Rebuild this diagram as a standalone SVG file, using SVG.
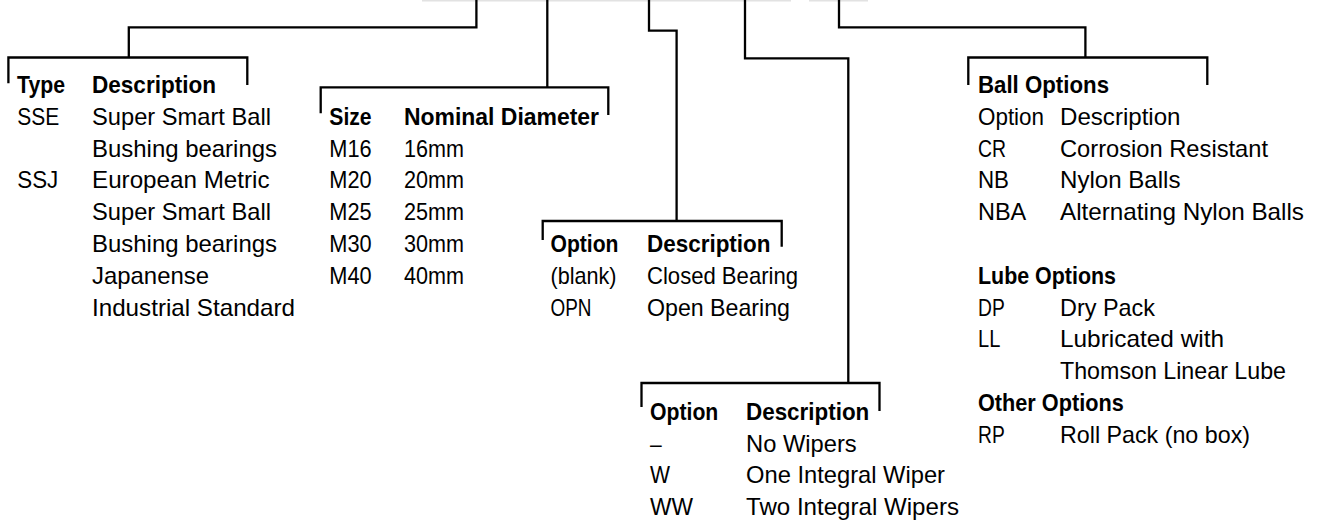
<svg xmlns="http://www.w3.org/2000/svg" width="1318" height="527" viewBox="0 0 1318 527">
<style>
.ln{fill:none;stroke:#000;stroke-width:2.3;stroke-linejoin:miter}
.gr{fill:none;stroke:#e2e2e2;stroke-width:1.5}
.t{font-family:"Liberation Sans",Arial,sans-serif;font-size:24px;fill:#000}
.b{font-weight:bold}
</style>
<rect width="1318" height="527" fill="#fff"/>
<g id="top-frame">
<line class="gr" x1="422" y1="0.75" x2="791" y2="0.75"/>
<line class="gr" x1="809" y1="0.75" x2="868" y2="0.75"/>
</g>
<g id="connectors">
<path class="ln" d="M476.4,0 V27.3 H128.8 V57.5"/>
<path class="ln" d="M547.3,0 V87.3"/>
<path class="ln" d="M649,0 V30.7 H676.6 V221"/>
<path class="ln" d="M745,0 V58.3 H848.3 V383"/>
<path class="ln" d="M839,0 V27.3 H1085.4 V57.5"/>
</g>
<g id="type-node">
<path class="ln" d="M8.4,83.3 V57.5 H247.3 V85"/>
<text class="t b" x="17" y="93" textLength="48" lengthAdjust="spacingAndGlyphs">Type</text>
<text class="t b" x="92" y="93" textLength="124" lengthAdjust="spacingAndGlyphs">Description</text>
<text class="t" x="17.3" y="124.8" textLength="42" lengthAdjust="spacingAndGlyphs">SSE</text>
<text class="t" x="92" y="124.8" textLength="179" lengthAdjust="spacingAndGlyphs">Super Smart Ball</text>
<text class="t" x="92" y="156.6" textLength="185" lengthAdjust="spacingAndGlyphs">Bushing bearings</text>
<text class="t" x="17.3" y="188.4" textLength="41" lengthAdjust="spacingAndGlyphs">SSJ</text>
<text class="t" x="92" y="188.4" textLength="177.5" lengthAdjust="spacingAndGlyphs">European Metric</text>
<text class="t" x="92" y="220.2" textLength="179" lengthAdjust="spacingAndGlyphs">Super Smart Ball</text>
<text class="t" x="92" y="252" textLength="185" lengthAdjust="spacingAndGlyphs">Bushing bearings</text>
<text class="t" x="92" y="283.8" textLength="117" lengthAdjust="spacingAndGlyphs">Japanense</text>
<text class="t" x="92" y="315.6" textLength="203" lengthAdjust="spacingAndGlyphs">Industrial Standard</text>
</g>
<g id="size-node">
<path class="ln" d="M320.7,113.3 V87.3 H608.3 V115"/>
<text class="t b" x="329.3" y="124.8" textLength="42.3" lengthAdjust="spacingAndGlyphs">Size</text>
<text class="t b" x="404" y="124.8" textLength="195" lengthAdjust="spacingAndGlyphs">Nominal Diameter</text>
<text class="t" x="329.3" y="156.6" textLength="42.3" lengthAdjust="spacingAndGlyphs">M16</text>
<text class="t" x="404" y="156.6" textLength="60" lengthAdjust="spacingAndGlyphs">16mm</text>
<text class="t" x="329.3" y="188.4" textLength="42.3" lengthAdjust="spacingAndGlyphs">M20</text>
<text class="t" x="404" y="188.4" textLength="60" lengthAdjust="spacingAndGlyphs">20mm</text>
<text class="t" x="329.3" y="220.2" textLength="42.3" lengthAdjust="spacingAndGlyphs">M25</text>
<text class="t" x="404" y="220.2" textLength="60" lengthAdjust="spacingAndGlyphs">25mm</text>
<text class="t" x="329.3" y="252" textLength="42.3" lengthAdjust="spacingAndGlyphs">M30</text>
<text class="t" x="404" y="252" textLength="60" lengthAdjust="spacingAndGlyphs">30mm</text>
<text class="t" x="329.3" y="283.8" textLength="42.3" lengthAdjust="spacingAndGlyphs">M40</text>
<text class="t" x="404" y="283.8" textLength="60" lengthAdjust="spacingAndGlyphs">40mm</text>
</g>
<g id="option-node">
<path class="ln" d="M542.7,240 V221 H781.7 V246.7"/>
<text class="t b" x="550.5" y="252" textLength="68" lengthAdjust="spacingAndGlyphs">Option</text>
<text class="t b" x="647" y="252" textLength="123.5" lengthAdjust="spacingAndGlyphs">Description</text>
<text class="t" x="550.5" y="283.8" textLength="66" lengthAdjust="spacingAndGlyphs">(blank)</text>
<text class="t" x="647" y="283.8" textLength="151" lengthAdjust="spacingAndGlyphs">Closed Bearing</text>
<text class="t" x="550.5" y="315.6" textLength="41" lengthAdjust="spacingAndGlyphs">OPN</text>
<text class="t" x="647" y="315.6" textLength="143" lengthAdjust="spacingAndGlyphs">Open Bearing</text>
</g>
<g id="wiper-node">
<path class="ln" d="M641.5,407 V383 H879.5 V411"/>
<text class="t b" x="650" y="420" textLength="68.3" lengthAdjust="spacingAndGlyphs">Option</text>
<text class="t b" x="746" y="420" textLength="123.3" lengthAdjust="spacingAndGlyphs">Description</text>
<text class="t" x="650" y="451.7" textLength="11.7" lengthAdjust="spacingAndGlyphs">–</text>
<text class="t" x="746" y="451.7" textLength="110.7" lengthAdjust="spacingAndGlyphs">No Wipers</text>
<text class="t" x="650" y="483.4" textLength="20" lengthAdjust="spacingAndGlyphs">W</text>
<text class="t" x="746" y="483.4" textLength="199" lengthAdjust="spacingAndGlyphs">One Integral Wiper</text>
<text class="t" x="650" y="515.1" textLength="43" lengthAdjust="spacingAndGlyphs">WW</text>
<text class="t" x="746" y="515.1" textLength="213" lengthAdjust="spacingAndGlyphs">Two Integral Wipers</text>
</g>
<g id="ball-node">
<path class="ln" d="M968.3,85 V57.5 H1207.3 V85"/>
<text class="t b" x="978" y="93" textLength="131" lengthAdjust="spacingAndGlyphs">Ball Options</text>
<text class="t" x="978" y="124.8" textLength="66" lengthAdjust="spacingAndGlyphs">Option</text>
<text class="t" x="1060" y="124.8" textLength="120.5" lengthAdjust="spacingAndGlyphs">Description</text>
<text class="t" x="978" y="156.6" textLength="28" lengthAdjust="spacingAndGlyphs">CR</text>
<text class="t" x="1060" y="156.6" textLength="208" lengthAdjust="spacingAndGlyphs">Corrosion Resistant</text>
<text class="t" x="978" y="188.4" textLength="31" lengthAdjust="spacingAndGlyphs">NB</text>
<text class="t" x="1060" y="188.4" textLength="120.5" lengthAdjust="spacingAndGlyphs">Nylon Balls</text>
<text class="t" x="978" y="220.2" textLength="48.3" lengthAdjust="spacingAndGlyphs">NBA</text>
<text class="t" x="1060" y="220.2" textLength="244" lengthAdjust="spacingAndGlyphs">Alternating Nylon Balls</text>
<text class="t b" x="978" y="283.8" textLength="138" lengthAdjust="spacingAndGlyphs">Lube Options</text>
<text class="t" x="978" y="315.6" textLength="26.7" lengthAdjust="spacingAndGlyphs">DP</text>
<text class="t" x="1060" y="315.6" textLength="95" lengthAdjust="spacingAndGlyphs">Dry Pack</text>
<text class="t" x="978" y="347.4" textLength="22.3" lengthAdjust="spacingAndGlyphs">LL</text>
<text class="t" x="1060" y="347.4" textLength="164" lengthAdjust="spacingAndGlyphs">Lubricated with</text>
<text class="t" x="1060" y="379.2" textLength="226" lengthAdjust="spacingAndGlyphs">Thomson Linear Lube</text>
<text class="t b" x="978" y="411" textLength="145.7" lengthAdjust="spacingAndGlyphs">Other Options</text>
<text class="t" x="978" y="442.8" textLength="26.7" lengthAdjust="spacingAndGlyphs">RP</text>
<text class="t" x="1060" y="442.8" textLength="190" lengthAdjust="spacingAndGlyphs">Roll Pack (no box)</text>
</g>
</svg>
